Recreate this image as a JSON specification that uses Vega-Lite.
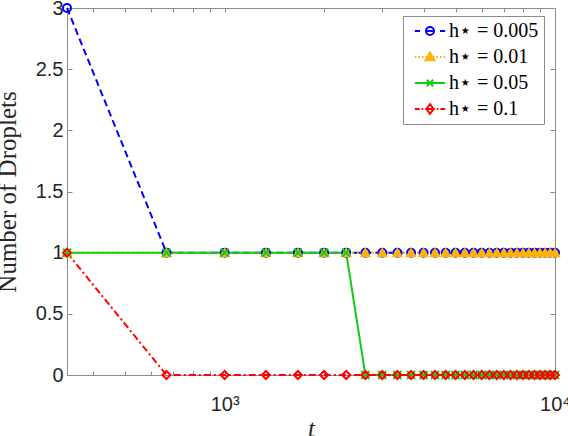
{
  "$schema": "https://vega.github.io/schema/vega-lite/v6.json",
  "width": 488,
  "height": 367,
  "autosize": "none",
  "padding": {"left": 67, "top": 8, "right": 13, "bottom": 61},
  "background": "white",
  "config": {
    "view": {"stroke": null},
    "axis": {"grid": false, "domainColor": "#8c8c8c", "tickColor": "#8c8c8c", "domainWidth": 1, "tickWidth": 1, "labelColor": "#262626", "labelFont": "Liberation Sans", "labelFontSize": 20, "titleColor": "#262626", "titleFont": "Liberation Serif", "titleFontSize": 25, "titleFontWeight": "normal"},
    "legend": {"fillColor": "white", "strokeColor": "#8c8c8c", "padding": 5, "labelFont": "Liberation Serif", "labelFontSize": 20, "labelColor": "black", "symbolSize": 64, "symbolStrokeWidth": 2, "symbolOpacity": 1, "rowPadding": 6, "labelOffset": 9, "symbolOffset": 12}
  },
  "data": {"values": [
    {"s": "h⋆ = 0.005", "t": 333.33, "n": 3}, {"s": "h⋆ = 0.005", "t": 666.67, "n": 1}, {"s": "h⋆ = 0.005", "t": 1000, "n": 1}, {"s": "h⋆ = 0.005", "t": 1333.33, "n": 1}, {"s": "h⋆ = 0.005", "t": 1666.67, "n": 1}, {"s": "h⋆ = 0.005", "t": 2000, "n": 1}, {"s": "h⋆ = 0.005", "t": 2333.33, "n": 1}, {"s": "h⋆ = 0.005", "t": 2666.67, "n": 1}, {"s": "h⋆ = 0.005", "t": 3000, "n": 1}, {"s": "h⋆ = 0.005", "t": 3333.33, "n": 1}, {"s": "h⋆ = 0.005", "t": 3666.67, "n": 1}, {"s": "h⋆ = 0.005", "t": 4000, "n": 1}, {"s": "h⋆ = 0.005", "t": 4333.33, "n": 1}, {"s": "h⋆ = 0.005", "t": 4666.67, "n": 1}, {"s": "h⋆ = 0.005", "t": 5000, "n": 1}, {"s": "h⋆ = 0.005", "t": 5333.33, "n": 1}, {"s": "h⋆ = 0.005", "t": 5666.67, "n": 1}, {"s": "h⋆ = 0.005", "t": 6000, "n": 1}, {"s": "h⋆ = 0.005", "t": 6333.33, "n": 1}, {"s": "h⋆ = 0.005", "t": 6666.67, "n": 1}, {"s": "h⋆ = 0.005", "t": 7000, "n": 1}, {"s": "h⋆ = 0.005", "t": 7333.33, "n": 1}, {"s": "h⋆ = 0.005", "t": 7666.67, "n": 1}, {"s": "h⋆ = 0.005", "t": 8000, "n": 1}, {"s": "h⋆ = 0.005", "t": 8333.33, "n": 1}, {"s": "h⋆ = 0.005", "t": 8666.67, "n": 1}, {"s": "h⋆ = 0.005", "t": 9000, "n": 1}, {"s": "h⋆ = 0.005", "t": 9333.33, "n": 1}, {"s": "h⋆ = 0.005", "t": 9666.67, "n": 1}, {"s": "h⋆ = 0.005", "t": 10000, "n": 1},
    {"s": "h⋆ = 0.01", "t": 333.33, "n": 1}, {"s": "h⋆ = 0.01", "t": 666.67, "n": 1}, {"s": "h⋆ = 0.01", "t": 1000, "n": 1}, {"s": "h⋆ = 0.01", "t": 1333.33, "n": 1}, {"s": "h⋆ = 0.01", "t": 1666.67, "n": 1}, {"s": "h⋆ = 0.01", "t": 2000, "n": 1}, {"s": "h⋆ = 0.01", "t": 2333.33, "n": 1}, {"s": "h⋆ = 0.01", "t": 2666.67, "n": 1}, {"s": "h⋆ = 0.01", "t": 3000, "n": 1}, {"s": "h⋆ = 0.01", "t": 3333.33, "n": 1}, {"s": "h⋆ = 0.01", "t": 3666.67, "n": 1}, {"s": "h⋆ = 0.01", "t": 4000, "n": 1}, {"s": "h⋆ = 0.01", "t": 4333.33, "n": 1}, {"s": "h⋆ = 0.01", "t": 4666.67, "n": 1}, {"s": "h⋆ = 0.01", "t": 5000, "n": 1}, {"s": "h⋆ = 0.01", "t": 5333.33, "n": 1}, {"s": "h⋆ = 0.01", "t": 5666.67, "n": 1}, {"s": "h⋆ = 0.01", "t": 6000, "n": 1}, {"s": "h⋆ = 0.01", "t": 6333.33, "n": 1}, {"s": "h⋆ = 0.01", "t": 6666.67, "n": 1}, {"s": "h⋆ = 0.01", "t": 7000, "n": 1}, {"s": "h⋆ = 0.01", "t": 7333.33, "n": 1}, {"s": "h⋆ = 0.01", "t": 7666.67, "n": 1}, {"s": "h⋆ = 0.01", "t": 8000, "n": 1}, {"s": "h⋆ = 0.01", "t": 8333.33, "n": 1}, {"s": "h⋆ = 0.01", "t": 8666.67, "n": 1}, {"s": "h⋆ = 0.01", "t": 9000, "n": 1}, {"s": "h⋆ = 0.01", "t": 9333.33, "n": 1}, {"s": "h⋆ = 0.01", "t": 9666.67, "n": 1}, {"s": "h⋆ = 0.01", "t": 10000, "n": 1},
    {"s": "h⋆ = 0.05", "t": 333.33, "n": 1}, {"s": "h⋆ = 0.05", "t": 666.67, "n": 1}, {"s": "h⋆ = 0.05", "t": 1000, "n": 1}, {"s": "h⋆ = 0.05", "t": 1333.33, "n": 1}, {"s": "h⋆ = 0.05", "t": 1666.67, "n": 1}, {"s": "h⋆ = 0.05", "t": 2000, "n": 1}, {"s": "h⋆ = 0.05", "t": 2333.33, "n": 1}, {"s": "h⋆ = 0.05", "t": 2666.67, "n": 0}, {"s": "h⋆ = 0.05", "t": 3000, "n": 0}, {"s": "h⋆ = 0.05", "t": 3333.33, "n": 0}, {"s": "h⋆ = 0.05", "t": 3666.67, "n": 0}, {"s": "h⋆ = 0.05", "t": 4000, "n": 0}, {"s": "h⋆ = 0.05", "t": 4333.33, "n": 0}, {"s": "h⋆ = 0.05", "t": 4666.67, "n": 0}, {"s": "h⋆ = 0.05", "t": 5000, "n": 0}, {"s": "h⋆ = 0.05", "t": 5333.33, "n": 0}, {"s": "h⋆ = 0.05", "t": 5666.67, "n": 0}, {"s": "h⋆ = 0.05", "t": 6000, "n": 0}, {"s": "h⋆ = 0.05", "t": 6333.33, "n": 0}, {"s": "h⋆ = 0.05", "t": 6666.67, "n": 0}, {"s": "h⋆ = 0.05", "t": 7000, "n": 0}, {"s": "h⋆ = 0.05", "t": 7333.33, "n": 0}, {"s": "h⋆ = 0.05", "t": 7666.67, "n": 0}, {"s": "h⋆ = 0.05", "t": 8000, "n": 0}, {"s": "h⋆ = 0.05", "t": 8333.33, "n": 0}, {"s": "h⋆ = 0.05", "t": 8666.67, "n": 0}, {"s": "h⋆ = 0.05", "t": 9000, "n": 0}, {"s": "h⋆ = 0.05", "t": 9333.33, "n": 0}, {"s": "h⋆ = 0.05", "t": 9666.67, "n": 0}, {"s": "h⋆ = 0.05", "t": 10000, "n": 0},
    {"s": "h⋆ = 0.1", "t": 333.33, "n": 1}, {"s": "h⋆ = 0.1", "t": 666.67, "n": 0}, {"s": "h⋆ = 0.1", "t": 1000, "n": 0}, {"s": "h⋆ = 0.1", "t": 1333.33, "n": 0}, {"s": "h⋆ = 0.1", "t": 1666.67, "n": 0}, {"s": "h⋆ = 0.1", "t": 2000, "n": 0}, {"s": "h⋆ = 0.1", "t": 2333.33, "n": 0}, {"s": "h⋆ = 0.1", "t": 2666.67, "n": 0}, {"s": "h⋆ = 0.1", "t": 3000, "n": 0}, {"s": "h⋆ = 0.1", "t": 3333.33, "n": 0}, {"s": "h⋆ = 0.1", "t": 3666.67, "n": 0}, {"s": "h⋆ = 0.1", "t": 4000, "n": 0}, {"s": "h⋆ = 0.1", "t": 4333.33, "n": 0}, {"s": "h⋆ = 0.1", "t": 4666.67, "n": 0}, {"s": "h⋆ = 0.1", "t": 5000, "n": 0}, {"s": "h⋆ = 0.1", "t": 5333.33, "n": 0}, {"s": "h⋆ = 0.1", "t": 5666.67, "n": 0}, {"s": "h⋆ = 0.1", "t": 6000, "n": 0}, {"s": "h⋆ = 0.1", "t": 6333.33, "n": 0}, {"s": "h⋆ = 0.1", "t": 6666.67, "n": 0}, {"s": "h⋆ = 0.1", "t": 7000, "n": 0}, {"s": "h⋆ = 0.1", "t": 7333.33, "n": 0}, {"s": "h⋆ = 0.1", "t": 7666.67, "n": 0}, {"s": "h⋆ = 0.1", "t": 8000, "n": 0}, {"s": "h⋆ = 0.1", "t": 8333.33, "n": 0}, {"s": "h⋆ = 0.1", "t": 8666.67, "n": 0}, {"s": "h⋆ = 0.1", "t": 9000, "n": 0}, {"s": "h⋆ = 0.1", "t": 9333.33, "n": 0}, {"s": "h⋆ = 0.1", "t": 9666.67, "n": 0}, {"s": "h⋆ = 0.1", "t": 10000, "n": 0}
  ]},
  "layer": [
    {
      "mark": {"type": "line", "strokeWidth": 2, "clip": false},
      "encoding": {
        "x": {"field": "t", "type": "quantitative", "scale": {"type": "log", "domain": [333.33, 10000], "nice": false},
              "axis": {"orient": "bottom", "title": "t", "titleFontStyle": "italic", "titlePadding": 2, "values": [400, 500, 600, 700, 800, 900, 1000, 2000, 3000, 4000, 5000, 6000, 7000, 8000, 9000, 10000], "labelExpr": "datum.value == 1000 ? '10³' : datum.value == 10000 ? '10⁴' : ''", "tickSize": -4, "labelPadding": 23, "labelFontSize": 20, "labelFlush": false, "labelOverlap": false}},
        "y": {"field": "n", "type": "quantitative", "scale": {"domain": [0, 3], "nice": false},
              "axis": {"orient": "left", "title": "Number of Droplets", "values": [0, 0.5, 1, 1.5, 2, 2.5, 3], "format": "~g", "tickSize": -5, "labelPadding": 9, "labelFontSize": 20, "titlePadding": 15}},
        "color": {"field": "s", "type": "nominal", "sort": null, "legend": null, "scale": {"domain": ["h⋆ = 0.005", "h⋆ = 0.01", "h⋆ = 0.05", "h⋆ = 0.1"], "range": ["#0000ff", "#fdb300", "#11cc11", "#ff0000"]}},
        "strokeDash": {"field": "s", "type": "nominal", "sort": null, "legend": null, "scale": {"domain": ["h⋆ = 0.005", "h⋆ = 0.01", "h⋆ = 0.05", "h⋆ = 0.1"], "range": [[7, 4], [2, 3], [1, 0], [7, 3, 2, 3]]}}
      }
    },
    {
      "mark": {"type": "point", "filled": true, "size": 64, "strokeWidth": 2, "opacity": 1, "clip": false},
      "encoding": {
        "x": {"field": "t", "type": "quantitative", "scale": {"type": "log", "domain": [333.33, 10000], "nice": false},
              "axis": {"orient": "top", "title": null, "labels": false, "values": [400, 500, 600, 700, 800, 900, 1000, 2000, 3000, 4000, 5000, 6000, 7000, 8000, 9000, 10000], "tickSize": -4}},
        "y": {"field": "n", "type": "quantitative", "scale": {"domain": [0, 3], "nice": false},
              "axis": {"orient": "right", "title": null, "labels": false, "values": [0, 0.5, 1, 1.5, 2, 2.5, 3], "tickSize": -5}},
        "stroke": {"field": "s", "type": "nominal", "sort": null, "legend": null, "scale": {"domain": ["h⋆ = 0.005", "h⋆ = 0.01", "h⋆ = 0.05", "h⋆ = 0.1"], "range": ["#0000ff", "#fdb300", "#11cc11", "#ff0000"]}},
        "fill": {"field": "s", "type": "nominal", "sort": null, "legend": null, "scale": {"domain": ["h⋆ = 0.005", "h⋆ = 0.01", "h⋆ = 0.05", "h⋆ = 0.1"], "range": ["transparent", "#fdb300", "transparent", "transparent"]}},
        "shape": {"field": "s", "type": "nominal", "sort": null, "legend": null, "scale": {"domain": ["h⋆ = 0.005", "h⋆ = 0.01", "h⋆ = 0.05", "h⋆ = 0.1"], "range": ["circle", "triangle-up", "M-1,-1L1,1M-1,1L1,-1", "diamond"]}}
      }
    },
    {
      "mark": {"type": "point", "filled": true, "strokeWidth": 2, "opacity": 0, "clip": false},
      "encoding": {
        "stroke": {"field": "s", "type": "nominal", "sort": null, "title": null, "legend": {"title": null, "orient": "none", "legendX": 336, "legendY": 8}, "scale": {"domain": ["h⋆ = 0.005", "h⋆ = 0.01", "h⋆ = 0.05", "h⋆ = 0.1"], "range": ["#0000ff", "#fdb300", "#11cc11", "#ff0000"]}},
        "fill": {"field": "s", "type": "nominal", "sort": null, "title": null, "legend": {"title": null, "orient": "none", "legendX": 336, "legendY": 8}, "scale": {"domain": ["h⋆ = 0.005", "h⋆ = 0.01", "h⋆ = 0.05", "h⋆ = 0.1"], "range": ["transparent", "#fdb300", "transparent", "transparent"]}},
        "shape": {"field": "s", "type": "nominal", "sort": null, "title": null, "legend": {"title": null, "orient": "none", "legendX": 336, "legendY": 8}, "scale": {"domain": ["h⋆ = 0.005", "h⋆ = 0.01", "h⋆ = 0.05", "h⋆ = 0.1"], "range": [
          "M-3.8,0H-2.5M-1,0H1M2.5,0H3.8M1,0A1,1 0 1,1 -1,0A1,1 0 1,1 1,0Z",
          "M-3.8,0H-3.4M-2.9,0H-2.5M-2,0H-1.6M-1.1,0H-0.8M0.8,0H1.1M1.6,0H2M2.5,0H2.9M3.4,0H3.8M0,-1.1L1.1,0.8L-1.1,0.8Z",
          "M-3.8,0H3.8M-0.8,-0.8L0.8,0.8M-0.8,0.8L0.8,-0.8",
          "M-3.8,0H-2.6M-2.1,0H-1.7M-1.2,0H1.2M1.7,0H2.1M2.6,0H3.8M0,-1.2L0.9,0L0,1.2L-0.9,0Z"]}}
      }
    }
  ],
  "resolve": {
    "axis": {"x": "independent", "y": "independent"},
    "scale": {"shape": "independent", "fill": "independent", "stroke": "independent"},
    "legend": {"color": "independent", "strokeDash": "independent", "shape": "independent", "fill": "independent", "stroke": "independent"}
  }
}
